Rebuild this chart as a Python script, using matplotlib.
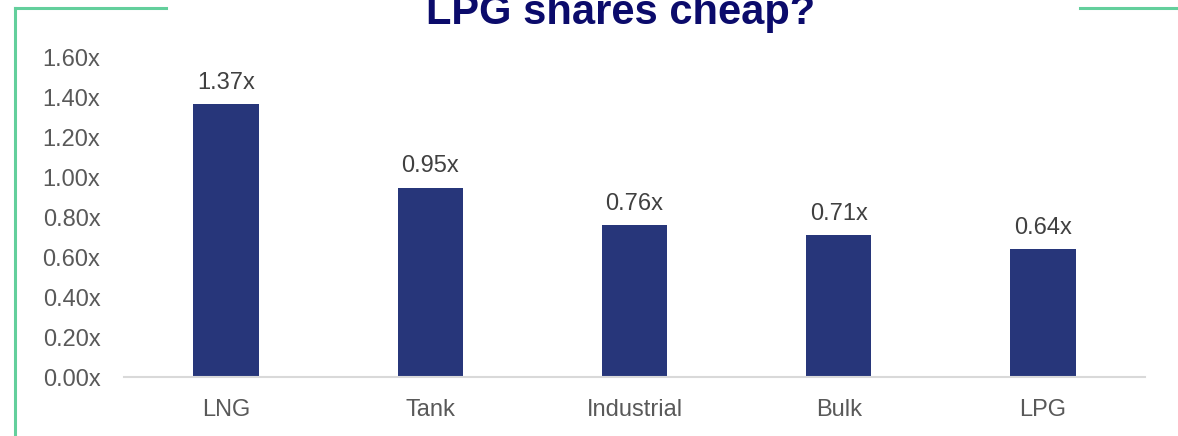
import matplotlib.pyplot as plt
from matplotlib.lines import Line2D

plt.rcParams['font.family'] = ['Liberation Sans', 'DejaVu Sans']

segmentos = ["LNG", "Tank", "Industrial", "Bulk", "LPG"]
multiplos = [1.37, 0.95, 0.76, 0.71, 0.64]
rotulos = ["1.37x", "0.95x", "0.76x", "0.71x", "0.64x"]
marcas_y = [0.0, 0.2, 0.4, 0.6, 0.8, 1.0, 1.2, 1.4, 1.6]

AZUL = "#27367A"
VERDE = "#63CF9C"

fig = plt.figure(figsize=(11.78, 4.36), dpi=100)
ax = fig.add_axes([0.1053, 0.1353, 0.8667, 0.7317])

barras = ax.bar(range(len(segmentos)), multiplos, width=0.32, color=AZUL)
for barra, valor, texto in zip(barras, multiplos, rotulos):
    ax.annotate(texto, (barra.get_x() + barra.get_width() / 2, valor),
                xytext=(0, 11), textcoords="offset points",
                ha="center", va="baseline", fontsize=17, color="#404040")

ax.set_xlim(-0.5, len(segmentos) - 0.5)
ax.set_ylim(0, 1.6)
ax.set_yticks(marcas_y)
ax.set_yticklabels([f"{v:.2f}x" for v in marcas_y])
ax.set_xticks(range(len(segmentos)))
ax.set_xticklabels(segmentos)
ax.tick_params(axis="both", length=0, labelsize=17, colors="#595959")
ax.tick_params(axis="y", pad=17)
ax.tick_params(axis="x", pad=16)

for lado in ["top", "right", "left"]:
    ax.spines[lado].set_visible(False)
ax.spines["bottom"].set_color("#D9D9D9")
ax.spines["bottom"].set_linewidth(1.5)

# moldura verde parcial
fig.add_artist(Line2D([15 / 1178, 15 / 1178], [0, 1 - 8 / 436], color=VERDE, lw=2.2))
fig.add_artist(Line2D([15 / 1178, 166 / 1178], [1 - 8 / 436, 1 - 8 / 436], color=VERDE, lw=2.2))
fig.add_artist(Line2D([1080 / 1178, 1], [1 - 8 / 436, 1 - 8 / 436], color=VERDE, lw=2.2))

# o título fica cortado no topo, como no slide original
fig.text(621 / 1178, 1 - 24 / 436, "LPG shares cheap?", ha="center", va="baseline",
         fontsize=30, fontweight="bold", color="#0B0B6B")

fig.savefig("out.png", dpi=100)
